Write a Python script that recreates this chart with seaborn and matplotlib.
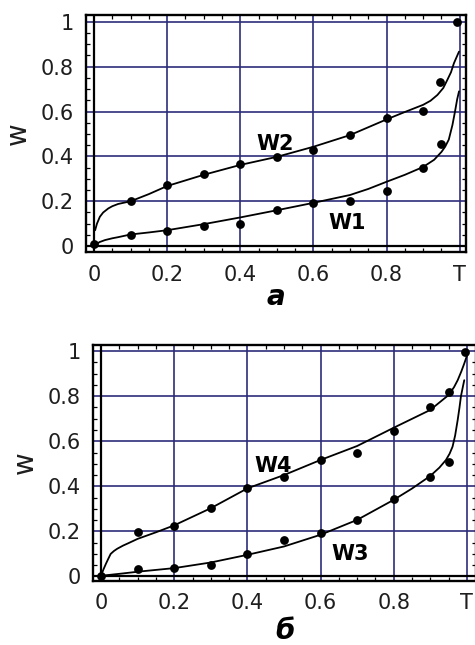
import matplotlib
matplotlib.use("Agg")
import matplotlib.pyplot as plt
import seaborn as sns
from matplotlib.ticker import MultipleLocator

# ---- data ----
# panel a: measured points
w1_t = [0, 0.1, 0.2, 0.3, 0.4, 0.5, 0.6, 0.7, 0.8, 0.9, 0.95]
w1_w = [0.01, 0.05, 0.068, 0.089, 0.097, 0.159, 0.193, 0.199, 0.245, 0.347, 0.454]
w2_t = [0.1, 0.2, 0.3, 0.4, 0.5, 0.6, 0.7, 0.8, 0.9, 0.946, 0.993]
w2_w = [0.199, 0.272, 0.321, 0.366, 0.396, 0.428, 0.495, 0.573, 0.602, 0.732, 0.998]
# panel a: fitted curves
w1_fit_t = [0.003, 0.015, 0.03, 0.05, 0.066, 0.1, 0.15, 0.2, 0.3, 0.4, 0.5, 0.6, 0.7, 0.75,
            0.8, 0.85, 0.9, 0.93, 0.95, 0.96, 0.97, 0.98, 0.987, 0.993, 0.998]
w1_fit_w = [0.005, 0.018, 0.027, 0.035, 0.04, 0.052, 0.061, 0.071, 0.098, 0.128, 0.16, 0.193,
            0.228, 0.255, 0.287, 0.318, 0.353, 0.385, 0.42, 0.443, 0.475, 0.54, 0.6, 0.655, 0.69]
w2_fit_t = [0.003, 0.008, 0.016, 0.025, 0.039, 0.05, 0.066, 0.1, 0.15, 0.2, 0.3, 0.4, 0.5, 0.6,
            0.7, 0.8, 0.85, 0.9, 0.92, 0.939, 0.955, 0.966, 0.976, 0.984, 0.992, 0.998]
w2_fit_w = [0.071, 0.1, 0.131, 0.15, 0.168, 0.178, 0.188, 0.2, 0.232, 0.268, 0.318, 0.362, 0.398,
            0.443, 0.495, 0.565, 0.598, 0.63, 0.648, 0.674, 0.705, 0.741, 0.775, 0.815, 0.845, 0.867]

# panel б: measured points
w3_t = [0.1, 0.2, 0.3, 0.4, 0.5, 0.6, 0.7, 0.8, 0.9, 0.95]
w3_w = [0.032, 0.037, 0.052, 0.100, 0.160, 0.195, 0.251, 0.343, 0.440, 0.510]
w4_t = [0, 0.1, 0.2, 0.3, 0.4, 0.5, 0.6, 0.7, 0.8, 0.9, 0.95, 0.995]
w4_w = [0.003, 0.196, 0.226, 0.306, 0.391, 0.440, 0.517, 0.549, 0.647, 0.753, 0.820, 0.997]
# panel б: fitted curves
w3_fit_t = [0, 0.052, 0.106, 0.15, 0.2, 0.3, 0.4, 0.5, 0.6, 0.7, 0.8, 0.85, 0.9, 0.925, 0.943,
            0.953, 0.961, 0.968, 0.975, 0.98, 0.984, 0.989, 0.993]
w3_fit_w = [0.003, 0.012, 0.022, 0.029, 0.037, 0.062, 0.096, 0.133, 0.185, 0.251, 0.34, 0.39,
            0.446, 0.483, 0.517, 0.545, 0.576, 0.625, 0.694, 0.75, 0.8, 0.84, 0.871]
w4_fit_t = [0, 0.006, 0.013, 0.02, 0.026, 0.035, 0.044, 0.06, 0.075, 0.1, 0.15, 0.2, 0.3, 0.4,
            0.5, 0.6, 0.7, 0.8, 0.9, 0.95, 0.965, 0.975, 0.985, 0.993, 1.0]
w4_fit_w = [0.004, 0.03, 0.056, 0.08, 0.1, 0.113, 0.123, 0.137, 0.148, 0.167, 0.196, 0.227, 0.303,
            0.391, 0.45, 0.517, 0.579, 0.66, 0.739, 0.805, 0.84, 0.871, 0.91, 0.945, 0.978]

x_ticks = [0, 0.2, 0.4, 0.6, 0.8, 1.0]
x_labels = ["0", "0.2", "0.4", "0.6", "0.8", "T"]
y_ticks = [0, 0.2, 0.4, 0.6, 0.8, 1.0]
y_labels = ["0", "0.2", "0.4", "0.6", "0.8", "1"]

sns.set_style("white")
plt.rcParams["font.family"] = ["DejaVu Sans"]

txt = "#1e1e1e"
grid_c = "#2e2c7a"

fig = plt.figure(figsize=(4.75, 6.45), dpi=100)
ax1 = fig.add_axes([0.181, 0.609, 0.800, 0.368])
ax2 = fig.add_axes([0.196, 0.100, 0.806, 0.365])


def style_axes(ax, xlim, ylim):
    ax.set_xlim(*xlim)
    ax.set_ylim(*ylim)
    ax.set_xticks(x_ticks)
    ax.set_xticklabels(x_labels)
    ax.set_yticks(y_ticks)
    ax.set_yticklabels(y_labels)
    ax.xaxis.set_minor_locator(MultipleLocator(0.05))
    ax.yaxis.set_minor_locator(MultipleLocator(0.05))
    ax.grid(True, which="major", color=grid_c, lw=1.2, zorder=0)
    ax.set_axisbelow(True)
    ax.tick_params(which="major", length=0, labelsize=15, labelcolor=txt, pad=9)
    ax.tick_params(which="minor", direction="in", length=3, width=0.9, color="black",
                   top=True, right=True, bottom=True, left=True)
    ax.axhline(0, color="black", lw=1.6, zorder=1)
    ax.axvline(0, color="black", lw=1.6, zorder=1)
    for s in ax.spines.values():
        s.set_visible(True)
        s.set_color("black")
        s.set_linewidth(1.7)
    ax.set_xlabel("")
    ax.set_ylabel("w", fontsize=20, color=txt, labelpad=6)


def draw(ax, fits, pts):
    for t, w in fits:
        sns.lineplot(x=t, y=w, ax=ax, color="black", lw=1.3, sort=False,
                     estimator=None, zorder=3)
    for t, w in pts:
        sns.scatterplot(x=t, y=w, ax=ax, color="black", s=40, edgecolor="black",
                        linewidth=0, zorder=4)


draw(ax1, [(w1_fit_t, w1_fit_w), (w2_fit_t, w2_fit_w)], [(w1_t, w1_w), (w2_t, w2_w)])
style_axes(ax1, (-0.022, 1.017), (-0.027, 1.031))
ax1.text(0.445, 0.43, "W2", fontsize=15, fontweight="bold", color="black")
ax1.text(0.64, 0.075, "W1", fontsize=15, fontweight="bold", color="black")
ax1.text(0.5, -0.19, "а", transform=ax1.transAxes, ha="center", va="center",
         fontsize=20, fontweight="bold", style="italic", color="black")

draw(ax2, [(w3_fit_t, w3_fit_w), (w4_fit_t, w4_fit_w)], [(w3_t, w3_w), (w4_t, w4_w)])
style_axes(ax2, (-0.022, 1.025), (-0.018, 1.027))
ax2.text(0.42, 0.465, "W4", fontsize=15, fontweight="bold", color="black")
ax2.text(0.63, 0.075, "W3", fontsize=15, fontweight="bold", color="black")
ax2.text(0.5, -0.215, "б", transform=ax2.transAxes, ha="center", va="center",
         fontsize=20, fontweight="bold", style="italic", color="black")

fig.savefig("out.png", dpi=100)
